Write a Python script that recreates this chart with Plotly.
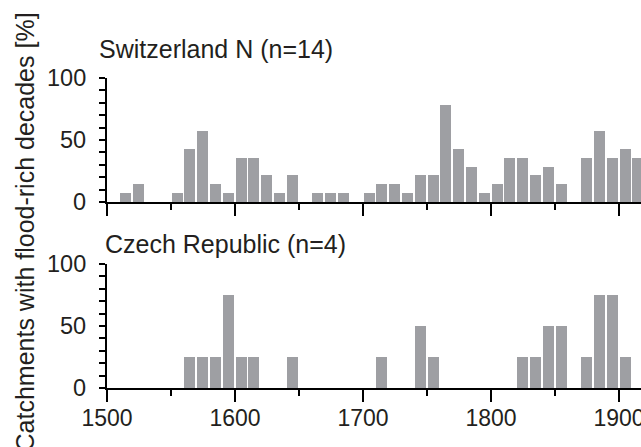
import plotly.graph_objects as go

# Decade start years
decades = [1500, 1510, 1520, 1530, 1540, 1550, 1560, 1570, 1580, 1590,
           1600, 1610, 1620, 1630, 1640, 1650, 1660, 1670, 1680, 1690,
           1700, 1710, 1720, 1730, 1740, 1750, 1760, 1770, 1780, 1790,
           1800, 1810, 1820, 1830, 1840, 1850, 1860, 1870, 1880, 1890,
           1900, 1910]

# Switzerland N (n=14): % of catchments with flood-rich decades
swiss = [0, 7.1, 14.3, 0, 0, 7.1, 42.9, 57.1, 14.3, 7.1,
         35.7, 35.7, 21.4, 7.1, 21.4, 0, 7.1, 7.1, 7.1, 0,
         7.1, 14.3, 14.3, 7.1, 21.4, 21.4, 78.6, 42.9, 28.6, 7.1,
         14.3, 35.7, 35.7, 21.4, 28.6, 14.3, 0, 35.7, 57.1, 35.7,
         42.9, 35.7]

# Czech Republic (n=4)
czech = [0, 0, 0, 0, 0, 0, 25, 25, 25, 75,
         25, 25, 0, 0, 25, 0, 0, 0, 0, 0,
         0, 25, 0, 0, 50, 25, 0, 0, 0, 0,
         0, 0, 25, 25, 50, 50, 0, 25, 75, 75,
         25, 0]

titles = ["Switzerland N (n=14)", "Czech Republic (n=4)"]
ylabel = "Catchments with flood-rich decades [%]"
xticks = [1500, 1600, 1700, 1800, 1900]
yticks = [0, 50, 100]
yticktext = ["0", "50", "100"]

W, H = 641, 447
FONT = "Liberation Sans, Arial, sans-serif"
TXT = "#231f20"
BAR = "#9e9fa3"

def py(px):
    return 1 - px / H

def pxx(px):
    return (px - 107) / (W - 107)

fig = go.Figure()
fig.add_trace(go.Bar(x=decades, y=swiss, offset=0.5, width=8.6,
                     marker=dict(color=BAR, line=dict(width=0)),
                     xaxis="x", yaxis="y", showlegend=False))
fig.add_trace(go.Bar(x=decades, y=czech, offset=0.5, width=8.6,
                     marker=dict(color=BAR, line=dict(width=0)),
                     xaxis="x2", yaxis="y2", showlegend=False))

xmax = 1500 + (W - 107) / 1.28

common_x = dict(range=[1500, xmax], showline=True, linecolor="black", linewidth=1.6,
                ticks="outside", ticklen=12, tickwidth=1.6, tickcolor="black",
                tickvals=xticks, showgrid=False, zeroline=False,
                ticklabeloverflow="allow", automargin=False,
                ticklabelstandoff=-3,
                minor=dict(dtick=50, tick0=1500, ticks="outside", ticklen=6,
                           tickwidth=1.6, tickcolor="black", showgrid=False),
                tickfont=dict(family=FONT, size=23, color=TXT))
common_y = dict(range=[0, 100], showline=True, linecolor="black", linewidth=1.6,
                ticks="outside", ticklen=6, tickwidth=1.6, tickcolor="black",
                tickvals=yticks, showticklabels=False,
                showgrid=False, zeroline=False, automargin=False,
                minor=dict(dtick=10, tick0=0, ticks="outside", ticklen=6,
                           tickwidth=1.6, tickcolor="black", showgrid=False))

annotations = [
    dict(text=titles[0], xref="paper", yref="paper", x=pxx(97),
         y=py(49), xanchor="left", yanchor="middle", showarrow=False,
         font=dict(family=FONT, size=25, color=TXT)),
    dict(text=titles[1], xref="paper", yref="paper", x=pxx(103),
         y=py(244), xanchor="left", yanchor="middle", showarrow=False,
         font=dict(family=FONT, size=25, color=TXT)),
    dict(text=ylabel, xref="paper", yref="paper", x=pxx(24),
         y=py(232.5), xanchor="center", yanchor="middle", textangle=-90,
         showarrow=False, font=dict(family=FONT, size=25, color=TXT)),
]
for yref in ["y", "y2"]:
    for v, t in zip(yticks, yticktext):
        annotations.append(dict(text=t, xref="paper", yref=yref, x=pxx(88), y=v,
                                xanchor="right", yanchor="middle", showarrow=False,
                                font=dict(family=FONT, size=23.5, color=TXT)))

fig.update_layout(
    width=W, height=H,
    margin=dict(l=107, r=0, t=0, b=0, pad=0, autoexpand=False),
    paper_bgcolor="white", plot_bgcolor="white",
    bargap=0,
    xaxis=dict(common_x, anchor="y", showticklabels=False),
    yaxis=dict(common_y, domain=[py(202), py(78)], anchor="x"),
    xaxis2=dict(common_x, anchor="y2"),
    yaxis2=dict(common_y, domain=[py(388), py(264)], anchor="x2"),
    annotations=annotations,
)

fig.write_html("out.html", config={"displayModeBar": False},
               post_script="document.body.style.margin='0';document.body.style.overflow='hidden';")
